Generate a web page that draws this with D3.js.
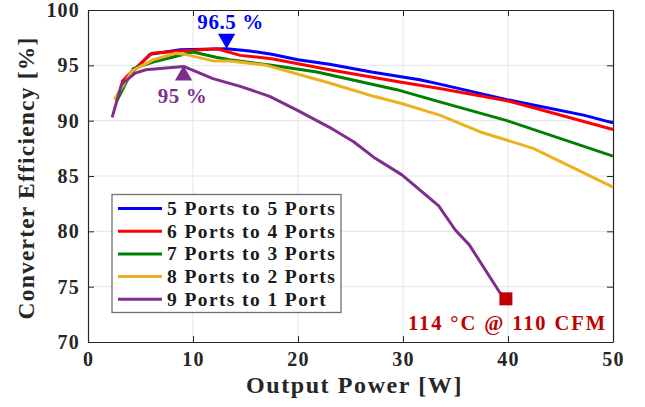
<!DOCTYPE html>
<html>
<head>
<meta charset="utf-8">
<script src="https://cdn.jsdelivr.net/npm/d3@7"></script>
<style>
  body { margin: 0; background: #fff; }
  svg { display: block; font-family: "Liberation Serif", "DejaVu Serif", serif; }
</style>
</head>
<body>
<svg id="chart" width="645" height="407"></svg>
<script>
// series data
const seriesNames = ['5 Ports to 5 Ports', '6 Ports to 4 Ports', '7 Ports to 3 Ports', '8 Ports to 2 Ports', '9 Ports to 1 Port'];
const seriesColors = ['#0000ff', '#ff0000', '#008000', '#edb120', '#7e2f8e'];

const power5 = [3.2, 5.9, 8.8, 13.2, 15.4, 17.5, 20, 23, 27, 31.6, 33.5, 39.9, 43, 47.2, 50];
const eff5   = [93.4, 96.0, 96.4, 96.5, 96.3, 96.0, 95.5, 95.1, 94.4, 93.7, 93.3, 91.9, 91.3, 90.5, 89.8];

const power6 = [3.2, 3.8, 6.1, 8.8, 12.3, 14.5, 17.5, 23, 29.7, 33.5, 39.9, 42.7, 50];
const eff6   = [93.5, 94.1, 96.1, 96.3, 96.5, 95.9, 95.6, 94.6, 93.5, 92.9, 91.8, 91.1, 89.2];

const power7 = [2.7, 4.3, 6.2, 10.0, 12.3, 13.5, 17.5, 21.8, 29.4, 33.5, 39.9, 50];
const eff7   = [91.7, 94.7, 95.3, 96.2, 95.7, 95.5, 95.0, 94.4, 92.8, 91.7, 90.0, 86.8];

const power8 = [2.5, 4.2, 6.2, 8.4, 9.7, 11.9, 13.5, 17, 23, 27.2, 29.7, 33.5, 37.3, 42.4, 50];
const eff8   = [91.9, 94.5, 95.5, 96.1, 95.9, 95.4, 95.4, 95.0, 93.4, 92.2, 91.6, 90.5, 89.0, 87.5, 84.0];

const power9 = [2.3, 3.2, 4.5, 5.5, 9.1, 11.9, 14.5, 17.3, 20, 23, 25.3, 27.2, 29.9, 33.4, 35.0, 36.3, 39.2, 39.8];
const eff9   = [90.3, 93.3, 94.3, 94.6, 94.9, 93.8, 93.1, 92.2, 90.9, 89.4, 88.1, 86.7, 85.1, 82.3, 80.1, 78.8, 74.5, 73.9];

const xTicks = [0, 10, 20, 30, 40, 50];
const yTicks = [70, 75, 80, 85, 90, 95, 100];

// annotations
const peakBlue = { x: 13.2, y: 96.5, label: '96.5 %' };
const peakPurple = { x: 9.1, y: 94.9, label: '95 %' };
const limitPoint = { x: 39.8, y: 73.9, label: '114 °C @ 110 CFM' };

const allPower = [power5, power6, power7, power8, power9];
const allEff = [eff5, eff6, eff7, eff8, eff9];

const svg = d3.select('#chart');
const mLeft = 88, mRight = 613, mTop = 10, mBottom = 342;

const x = d3.scaleLinear().domain([0, 50]).range([mLeft, mRight]);
const y = d3.scaleLinear().domain([70, 100]).range([mBottom, mTop]);

// grid
svg.append('g').selectAll('line')
  .data(xTicks.slice(1, -1))
  .enter().append('line')
  .attr('x1', d => x(d)).attr('x2', d => x(d))
  .attr('y1', mTop).attr('y2', mBottom)
  .attr('stroke', '#e5e5e5').attr('stroke-width', 1);
svg.append('g').selectAll('line')
  .data(yTicks.slice(1, -1))
  .enter().append('line')
  .attr('x1', mLeft).attr('x2', mRight)
  .attr('y1', d => y(d)).attr('y2', d => y(d))
  .attr('stroke', '#e5e5e5').attr('stroke-width', 1);

// axes (matlab box style, ticks inside)
const axisColor = '#262626';
const xAxis = svg.append('g').attr('transform', `translate(0,${mBottom})`)
  .call(d3.axisBottom(x).tickValues(xTicks).tickSizeInner(-6).tickSizeOuter(0).tickPadding(10));
const xAxisTop = svg.append('g').attr('transform', `translate(0,${mTop})`)
  .call(d3.axisTop(x).tickValues(xTicks).tickSizeInner(-6).tickSizeOuter(0).tickFormat(''));
const yAxis = svg.append('g').attr('transform', `translate(${mLeft},0)`)
  .call(d3.axisLeft(y).tickValues(yTicks).tickSizeInner(-6).tickSizeOuter(0).tickPadding(8));
const yAxisRight = svg.append('g').attr('transform', `translate(${mRight},0)`)
  .call(d3.axisRight(y).tickValues(yTicks).tickSizeInner(-6).tickSizeOuter(0).tickFormat(''));

[xAxis, xAxisTop, yAxis, yAxisRight].forEach(g => {
  g.select('.domain').attr('stroke', axisColor).attr('stroke-width', 1.2);
  g.selectAll('.tick line').attr('stroke', axisColor);
  g.selectAll('.tick text')
    .attr('fill', '#262626')
    .attr('font-size', 20)
    .attr('font-weight', 'bold')
    .attr('letter-spacing', 1.2)
    .attr('font-family', '"Liberation Serif", serif');
});

// lines
const line = d3.line().x(d => x(d[0])).y(d => y(d[1]));
const plot = svg.append('g');
allPower.forEach((px, i) => {
  const pts = px.map((p, j) => [p, allEff[i][j]]);
  plot.append('path')
    .datum(pts)
    .attr('d', line)
    .attr('fill', 'none')
    .attr('stroke', seriesColors[i])
    .attr('stroke-width', 3)
    .attr('stroke-linejoin', 'round');
});

// peak markers
const tri = d3.symbol().type(d3.symbolTriangle).size(130);
svg.append('path')
  .attr('d', tri())
  .attr('transform', `translate(${x(peakBlue.x)},${y(peakBlue.y) - 10}) rotate(180)`)
  .attr('fill', seriesColors[0]);
svg.append('text')
  .attr('x', x(peakBlue.x) + 4).attr('y', y(peakBlue.y) - 20)
  .attr('text-anchor', 'middle')
  .attr('font-size', 21).attr('font-weight', 'bold')
  .attr('letter-spacing', 0.6)
  .attr('fill', seriesColors[0])
  .text(peakBlue.label);

svg.append('path')
  .attr('d', tri())
  .attr('transform', `translate(${x(peakPurple.x)},${y(peakPurple.y) + 9})`)
  .attr('fill', seriesColors[4]);
svg.append('text')
  .attr('x', x(peakPurple.x) - 1).attr('y', y(peakPurple.y) + 37)
  .attr('text-anchor', 'middle')
  .attr('font-size', 21).attr('font-weight', 'bold')
  .attr('letter-spacing', 0.6)
  .attr('fill', seriesColors[4])
  .text(peakPurple.label);

// temperature limit marker
svg.append('rect')
  .attr('x', x(limitPoint.x) - 6.5).attr('y', y(limitPoint.y) - 6.5)
  .attr('width', 13).attr('height', 13)
  .attr('fill', '#c00000');
svg.append('text')
  .attr('x', 408).attr('y', 330)
  .attr('font-size', 20.5).attr('font-weight', 'bold')
  .attr('letter-spacing', 1.9)
  .attr('fill', '#c00000')
  .text(limitPoint.label);

// legend
const legend = svg.append('g');
legend.append('rect')
  .attr('x', 112).attr('y', 194.5)
  .attr('width', 229).attr('height', 118)
  .attr('fill', '#fff').attr('stroke', '#707070').attr('stroke-width', 1.3);
seriesNames.forEach((name, i) => {
  const ly = 208.5 + i * 22.7;
  legend.append('line')
    .attr('x1', 118).attr('x2', 162)
    .attr('y1', ly).attr('y2', ly)
    .attr('stroke', seriesColors[i]).attr('stroke-width', 3);
  legend.append('text')
    .attr('x', 167).attr('y', ly + 6.5)
    .attr('font-size', 19.5)
    .attr('font-weight', 600)
    .attr('letter-spacing', 1.4)
    .attr('fill', '#1a1a1a')
    .text(name);
});

// axis titles
svg.append('text')
  .attr('x', (mLeft + mRight) / 2 + 4).attr('y', 393)
  .attr('text-anchor', 'middle')
  .attr('font-size', 24).attr('font-weight', 'bold')
  .attr('letter-spacing', 1.6)
  .attr('fill', '#262626')
  .text('Output Power [W]');
svg.append('text')
  .attr('transform', `translate(34,${(mTop + mBottom) / 2 + 2}) rotate(-90)`)
  .attr('text-anchor', 'middle')
  .attr('font-size', 23.5).attr('font-weight', 'bold')
  .attr('letter-spacing', 1.2)
  .attr('fill', '#262626')
  .text('Converter Efficiency [%]');
</script>
</body>
</html>
